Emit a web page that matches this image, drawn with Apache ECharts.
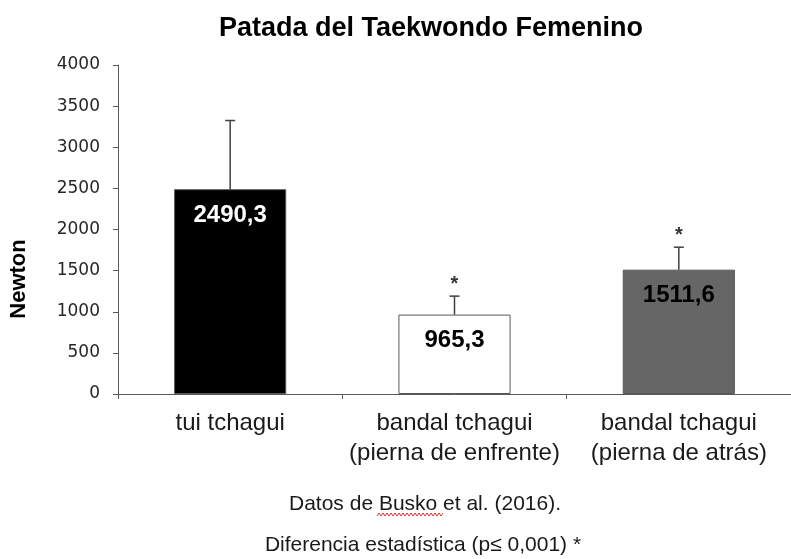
<!DOCTYPE html>
<html>
<head>
<meta charset="utf-8">
<script src="https://cdn.jsdelivr.net/npm/echarts@6/dist/echarts.min.js"></script>
<style>
  html, body { margin: 0; padding: 0; background: #fff; }
  #chart { width: 791px; height: 559px; }
</style>
</head>
<body>
<div id="chart"></div>
<script>
// datos del gráfico
const categories = ['tui tchagui', 'bandal tchagui\n(pierna de enfrente)', 'bandal tchagui\n(pierna de atrás)'];
const means = [2490.3, 965.3, 1511.6];
const errUpper = [3325, 1190, 1785]; // extremo superior de la barra de error
const signif = ['', '*', '*'];
const yTicks = [0, 4000, 500]; // min, max, intervalo

const barColors = ['#000000', '#ffffff', '#666666'];
const labelColors = ['#ffffff', '#000000', '#000000'];

const chart = echarts.init(document.getElementById('chart'), null, {renderer: 'canvas'});

// subrayado rojo (corrector ortográfico) bajo "Busko"
const squiggle = [];
for (let x = 377, k = 0; x <= 443; x += 2, k++) {
    squiggle.push([x, k % 2 ? 513 : 516]);
}

const option = {
    animation: false,
    backgroundColor: '#ffffff',
    grid: {left: 118, right: -8, top: 65, bottom: 165},
    xAxis: {
        type: 'category',
        data: categories,
        axisLine: {lineStyle: {color: '#595959', width: 1}},
        axisTick: {show: true, length: 5, lineStyle: {color: '#595959'}},
        axisLabel: {
            color: '#1a1a1a',
            fontFamily: 'Liberation Sans, Arial, sans-serif',
            fontSize: 24,
            lineHeight: 30,
            margin: 14,
            interval: 0
        }
    },
    yAxis: {
        type: 'value',
        min: yTicks[0],
        max: yTicks[1],
        interval: yTicks[2],
        axisLine: {show: true, lineStyle: {color: '#595959', width: 1}},
        axisTick: {show: true, length: 5, lineStyle: {color: '#595959'}},
        splitLine: {show: false},
        axisLabel: {
            color: '#262626',
            fontFamily: 'DejaVu Sans, Verdana, sans-serif',
            fontSize: 17,
            margin: 18,
            formatter: v => String(v)
        }
    },
    series: [
        {
            type: 'bar',
            barWidth: '50%',
            data: means.map((v, i) => ({
                value: v,
                itemStyle: {color: barColors[i], borderColor: '#595959', borderWidth: 1},
                label: {color: labelColors[i]}
            })),
            label: {
                show: true,
                position: 'insideTop',
                distance: 14,
                fontFamily: 'Liberation Sans, Arial, sans-serif',
                fontWeight: 'bold',
                fontSize: 24,
                formatter: p => p.value.toFixed(1).replace('.', ',')
            }
        },
        {
            type: 'custom',
            z: 5,
            data: means.map((v, i) => [i, v, errUpper[i]]),
            renderItem: function (params, api) {
                const base = api.coord([api.value(0), api.value(1)]);
                const top = api.coord([api.value(0), api.value(2)]);
                const cap = 5;
                const st = {stroke: '#404040', lineWidth: 1.5};
                const children = [
                    {type: 'line', shape: {x1: base[0], y1: base[1], x2: top[0], y2: top[1]}, style: st},
                    {type: 'line', shape: {x1: top[0] - cap, y1: top[1], x2: top[0] + cap, y2: top[1]}, style: st}
                ];
                const s = signif[params.dataIndex];
                if (s) {
                    children.push({
                        type: 'text',
                        style: {
                            text: s, x: top[0], y: top[1] - 12,
                            align: 'center', verticalAlign: 'middle',
                            font: 'bold 20px "Liberation Sans", Arial, sans-serif',
                            fill: '#333333'
                        }
                    });
                }
                return {type: 'group', children: children};
            }
        }
    ],
    graphic: [
        {
            type: 'text', x: 431, y: 29,
            style: {
                text: 'Patada del Taekwondo Femenino',
                font: 'bold 27px "Liberation Sans", Arial, sans-serif',
                fill: '#000000', align: 'center', verticalAlign: 'middle'
            }
        },
        {
            type: 'text', x: 19, y: 279, rotation: Math.PI / 2,
            style: {
                text: 'Newton',
                font: 'bold 22px "Liberation Sans", Arial, sans-serif',
                fill: '#000000', align: 'center', verticalAlign: 'middle'
            }
        },
        {
            type: 'text', x: 425, y: 504,
            style: {
                text: 'Datos de Busko et al. (2016).',
                font: '21px "Liberation Sans", Arial, sans-serif',
                fill: '#1a1a1a', align: 'center', verticalAlign: 'middle'
            }
        },
        {
            type: 'polyline',
            shape: {points: squiggle},
            style: {stroke: '#e03030', lineWidth: 1, fill: null}
        },
        {
            type: 'text', x: 423, y: 545,
            style: {
                text: 'Diferencia estadística (p≤ 0,001) *',
                font: '21px "Liberation Sans", Arial, sans-serif',
                fill: '#1a1a1a', align: 'center', verticalAlign: 'middle'
            }
        }
    ]
};

chart.setOption(option);
</script>
</body>
</html>
